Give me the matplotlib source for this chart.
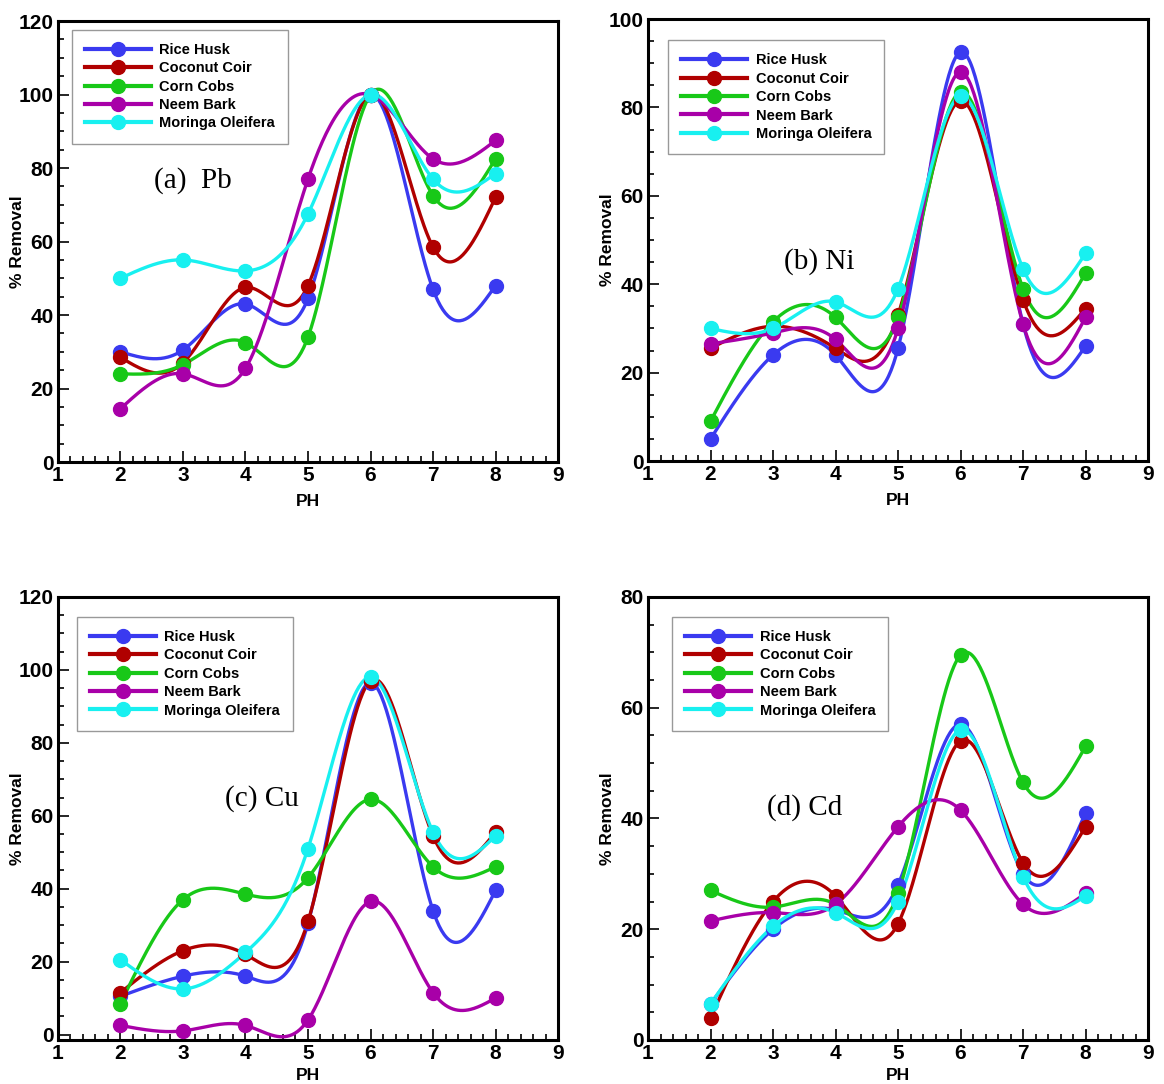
import matplotlib
matplotlib.use('Agg')
import matplotlib.pyplot as plt
import numpy as np
from matplotlib.ticker import MultipleLocator

ph = [2, 3, 4, 5, 6, 7, 8]
names = ['Rice Husk', 'Coconut Coir', 'Corn Cobs', 'Neem Bark', 'Moringa Oleifera']
colors = ['#3a3af0', '#b00000', '#18c818', '#a800a8', '#18f0f0']

pb = {
    'Rice Husk': [30, 30.5, 43, 44.5, 100, 47, 48],
    'Coconut Coir': [28.5, 27, 47.5, 48, 100, 58.5, 72],
    'Corn Cobs': [24, 26.5, 32.5, 34, 100, 72.5, 82.5],
    'Neem Bark': [14.5, 24, 25.5, 77, 100, 82.5, 87.5],
    'Moringa Oleifera': [50, 55, 52, 67.5, 100, 77, 78.5],
}
ni = {
    'Rice Husk': [5, 24, 24, 25.5, 92.5, 31, 26],
    'Coconut Coir': [25.5, 30.5, 25.5, 33, 81.5, 36.5, 34.5],
    'Corn Cobs': [9, 31.5, 32.5, 32.5, 83.5, 39, 42.5],
    'Neem Bark': [26.5, 29, 27.5, 30, 88, 31, 32.5],
    'Moringa Oleifera': [30, 30, 36, 39, 82.5, 43.5, 47],
}
cu = {
    'Rice Husk': [10.5, 16, 16, 30.5, 96.5, 34, 39.5],
    'Coconut Coir': [11.5, 23, 22, 31, 97, 54.5, 55.5],
    'Corn Cobs': [8.5, 37, 38.5, 43, 64.5, 46, 46],
    'Neem Bark': [2.5, 1, 2.5, 4, 36.5, 11.5, 10],
    'Moringa Oleifera': [20.5, 12.5, 22.5, 51, 98, 55.5, 54.5],
}
cd = {
    'Rice Husk': [6.5, 20, 23.5, 28, 57, 30, 41],
    'Coconut Coir': [4, 25, 26, 21, 54, 32, 38.5],
    'Corn Cobs': [27, 24, 24.5, 26.5, 69.5, 46.5, 53],
    'Neem Bark': [21.5, 23, 24.5, 38.5, 41.5, 24.5, 26.5],
    'Moringa Oleifera': [6.5, 20.5, 23, 25, 56, 29.5, 26],
}


def spline(x, y, n=300):
    # natural cubic spline through the points, for drawing only
    x = np.asarray(x, float)
    y = np.asarray(y, float)
    k = len(x)
    h = np.diff(x)
    A = np.zeros((k, k))
    b = np.zeros(k)
    A[0, 0] = A[-1, -1] = 1
    for i in range(1, k - 1):
        A[i, i - 1] = h[i - 1]
        A[i, i] = 2 * (h[i - 1] + h[i])
        A[i, i + 1] = h[i]
        b[i] = 6 * ((y[i + 1] - y[i]) / h[i] - (y[i] - y[i - 1]) / h[i - 1])
    M = np.linalg.solve(A, b)
    xs = np.linspace(x[0], x[-1], n)
    idx = np.clip(np.searchsorted(x, xs) - 1, 0, k - 2)
    x0, x1 = x[idx], x[idx + 1]
    hh = x1 - x0
    t0 = x1 - xs
    t1 = xs - x0
    ys = (M[idx] * t0 ** 3 + M[idx + 1] * t1 ** 3) / (6 * hh) \
        + (y[idx] / hh - M[idx] * hh / 6) * t0 \
        + (y[idx + 1] / hh - M[idx + 1] * hh / 6) * t1
    return xs, ys


panels = [
    (pb, [0.0498, 0.5738, 0.4296, 0.4068], (0, 120), '(a)  Pb', (3.16, 76.5), (0.028, 0.98), -0.072),
    (ni, [0.5567, 0.5747, 0.4296, 0.4077], (0, 100), '(b) Ni', (3.74, 45.2), (0.04, 0.952), -0.072),
    (cu, [0.0498, 0.0406, 0.4296, 0.4087], (-1.5, 120), '(c) Cu', (4.26, 64.8), (0.038, 0.955), -0.063),
    (cd, [0.5567, 0.0406, 0.4296, 0.4087], (0, 80), '(d) Cd', (3.5, 41.9), (0.048, 0.955), -0.063),
]

fig = plt.figure(figsize=(11.64, 10.84), dpi=100)
sans = ['Liberation Sans', 'DejaVu Sans']

for data, rect, ylim, label, lpos, legpos, xly in panels:
    ax = fig.add_axes(rect)
    for name, c in zip(names, colors):
        xs, ys = spline(ph, data[name])
        ax.plot(xs, ys, color=c, lw=2.4, zorder=2)
        ax.plot(ph, data[name], 'o', color=c, ms=10, zorder=3)
        ax.plot([], [], '-o', color=c, lw=3, ms=10, label=name)
    ax.set_xlim(1, 9)
    ax.set_ylim(*ylim)
    ax.xaxis.set_major_locator(MultipleLocator(1))
    ax.xaxis.set_minor_locator(MultipleLocator(0.2))
    ax.yaxis.set_major_locator(MultipleLocator(20))
    ax.yaxis.set_minor_locator(MultipleLocator(5))
    ax.tick_params(which='both', direction='in', top=False, right=False, width=1.2)
    ax.tick_params(which='major', length=8, labelsize=15, pad=3)
    ax.tick_params(which='minor', length=4)
    for t in ax.get_xticklabels() + ax.get_yticklabels():
        t.set_fontweight('bold')
        t.set_family(sans)
    for s in ax.spines.values():
        s.set_linewidth(2.2)
    ax.set_xlabel('PH', fontsize=12.5, fontweight='bold', family=sans)
    ax.xaxis.set_label_coords(0.5, xly)
    ax.set_ylabel('% Removal', fontsize=12.5, fontweight='bold', family=sans)
    ax.yaxis.set_label_coords(-0.066, 0.5)
    ax.text(lpos[0], lpos[1], label, fontsize=21, family=['Liberation Serif', 'DejaVu Serif'],
            ha='center', va='center')
    leg = ax.legend(loc='upper left', bbox_to_anchor=legpos, fancybox=False,
                    edgecolor='#999999', handlelength=4.5, labelspacing=0.3,
                    borderpad=0.9, borderaxespad=0, handletextpad=0.6, framealpha=1,
                    prop={'family': sans, 'weight': 'bold', 'size': 10.5})
    leg.get_frame().set_linewidth(1.0)

plt.savefig('out.png', dpi=100)
